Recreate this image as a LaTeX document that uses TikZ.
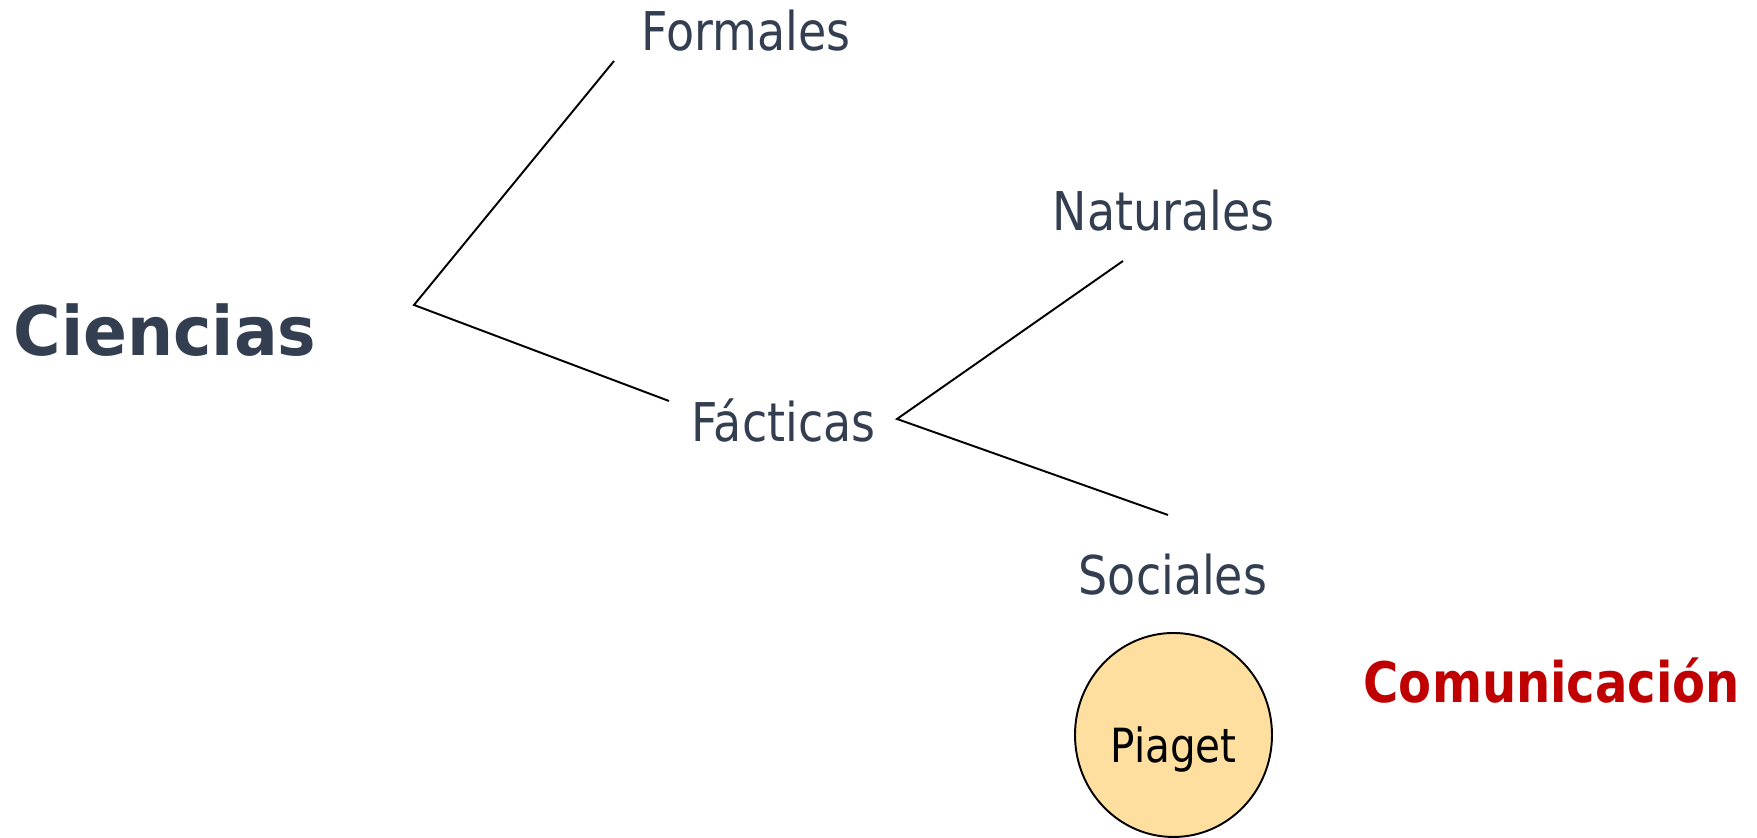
\documentclass[tikz,border=0pt]{standalone}
\usepackage{fontspec}
\setmainfont[FakeStretch=0.86]{DejaVu Sans}
\newfontfamily\titlefont[FakeStretch=0.95]{DejaVu Sans}
\usetikzlibrary{shapes.geometric}

\definecolor{textslate}{RGB}{51,63,80}
\definecolor{piagetfill}{RGB}{254,223,160}
\definecolor{comred}{RGB}{192,0,0}

\tikzset{
	branchtext/.style={anchor=base west, inner sep=0pt, text=textslate, font=\fontsize{15.2}{17}\selectfont},
	branchline/.style={line width=0.55pt, black}
}

\begin{document}
\begin{tikzpicture}
			
			\useasboundingbox (0,0) rectangle (17.57,8.38);
			
			\coordinate (J1) at (4.14, 5.33); 
			\coordinate (J2) at (8.97, 4.19); 
			\coordinate (FE) at (6.14, 7.77);
			\coordinate (FA) at (6.69, 4.37); 
			\coordinate (NE) at (11.23, 5.77); 
			\coordinate (SE) at (11.68, 3.23); 
			
			\draw[branchline] (FE) -- (J1) -- (FA);
			\draw[branchline] (NE) -- (J2) -- (SE);
			
			\node (ciencias) at (0.13, 4.82) [anchor=base west, inner sep=0pt, text=textslate, font=\titlefont\bfseries\fontsize{19.4}{22}\selectfont] {Ciencias};
			\node (formales) at (6.41, 7.87) [branchtext] {Formales};
			\node (facticas) at (6.91, 3.96) [branchtext] {Fácticas};
			\node (naturales) at (10.52, 6.07) [branchtext] {Naturales};
			\node (sociales) at (10.78, 2.43) [branchtext] {Sociales};
			
			\node (piaget) at (11.735, 1.03) [ellipse, draw, line width=0.55pt, fill=piagetfill, minimum width=1.97cm, minimum height=2.04cm, text height=0.56cm, text depth=0cm, inner sep=0pt, font=\fontsize{13.4}{15}\selectfont] {Piaget};
			\node (comunicacion) at (13.63, 1.35) [anchor=base west, inner sep=0pt, text=comred, font=\bfseries\fontsize{15.9}{18}\selectfont] {Comunicación};
			
			%
			%%Branches of the sciences are typeset.
			
		\end{tikzpicture}
\end{document}
